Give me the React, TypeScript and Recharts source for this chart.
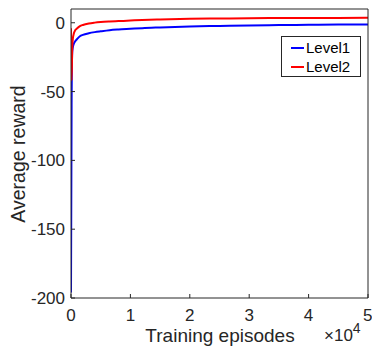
import { Label, Line, LineChart, XAxis, YAxis } from "recharts";

const EPISODES = [0, 100, 200, 300, 500, 700, 1000, 1500, 2000, 3000, 4000, 5000, 6500, 8000, 10000, 12000, 15000, 20000, 25000, 30000, 35000, 40000, 45000, 50000];
const LEVEL1 = [-196, -60, -22, -18, -15, -13.5, -12, -9.8, -8.8, -7.6, -6.8, -6.2, -5.4, -4.9, -4.4, -3.9, -3.4, -2.7, -2.3, -1.9, -1.7, -1.5, -1.3, -1.2];
const LEVEL2 = [-4, -42, -20, -12, -7.5, -5.5, -4.2, -2.5, -1.6, -0.5, 0.1, 0.5, 0.9, 1.2, 1.6, 2.0, 2.4, 2.9, 3.1, 3.3, 3.4, 3.5, 3.55, 3.6];
const X_TICKS = [0, 10000, 20000, 30000, 40000, 50000];
const Y_TICKS = [-200, -150, -100, -50, 0];
const SERIES = [
  { key: "level1", name: "Level1", color: "#0000ff" },
  { key: "level2", name: "Level2", color: "#ff0000" },
];

const data = EPISODES.map((ep, i) => ({ ep, level1: LEVEL1[i], level2: LEVEL2[i] }));

const FONT = "'Liberation Sans', Arial, Helvetica, sans-serif";
const INK = "#262626";
const tick = { fill: INK, fontSize: 17, fontFamily: FONT };

function LegendBox() {
  return (
    <div
      style={{
        position: "absolute",
        left: 281,
        top: 36,
        border: `1px solid ${INK}`,
        background: "#fff",
        width: 78,
        height: 38,
        fontFamily: FONT,
        fontSize: 15,
        color: "#000",
        paddingTop: 1,
      }}
    >
      {SERIES.map((s) => (
        <div key={s.key} style={{ display: "flex", alignItems: "center", height: 19 }}>
          <span style={{ display: "inline-block", width: 13, height: 2, background: s.color, marginLeft: 9, marginRight: 2 }} />
          <span>{s.name}</span>
        </div>
      ))}
    </div>
  );
}

export default function App() {
  return (
    <div style={{ position: "absolute", left: 0, top: 0, width: 372, height: 351, background: "#fff" }}>
      <LineChart width={372} height={351} data={data} margin={{ top: 8, right: 3, bottom: 52, left: 70 }}>
        <XAxis
          dataKey="ep"
          type="number"
          domain={[0, 50000]}
          ticks={X_TICKS}
          tickFormatter={(v) => String(v / 10000)}
          height={1}
          tick={tick}
          tickSize={-4}
          tickMargin={14.5}
          stroke={INK}
          allowDataOverflow
        >
          <Label
            content={() => (
              <g>
                <text x={220} y={341.5} textAnchor="middle" fontSize={19} fontFamily={FONT} fill={INK}>
                  Training episodes
                </text>
                <text x={324} y={341} fontFamily={FONT} fill={INK}>
                  <tspan fontSize={17}>×10</tspan>
                  <tspan fontSize={14} dy={-8}>4</tspan>
                </text>
              </g>
            )}
          />
        </XAxis>
        <XAxis
          xAxisId="top"
          orientation="top"
          type="number"
          domain={[0, 50000]}
          ticks={X_TICKS}
          height={1}
          tick={false}
          tickSize={-4}
          stroke={INK}
          allowDataOverflow
        />
        <YAxis
          type="number"
          domain={[-200, 10]}
          ticks={Y_TICKS}
          width={1}
          tick={tick}
          tickSize={-4}
          tickMargin={10}
          stroke={INK}
          allowDataOverflow
        >
          <Label
            content={() => (
              <text
                x={18}
                y={154}
                transform="rotate(-90 18 154)"
                textAnchor="middle"
                dominantBaseline="central"
                fontSize={19.5}
                fontFamily={FONT}
                fill={INK}
              >
                Average reward
              </text>
            )}
          />
        </YAxis>
        <YAxis
          yAxisId="right"
          orientation="right"
          type="number"
          domain={[-200, 10]}
          ticks={Y_TICKS}
          width={1}
          tick={false}
          tickSize={-4}
          stroke={INK}
          allowDataOverflow
        />
        {SERIES.map((s) => (
          <Line
            key={s.key}
            dataKey={s.key}
            name={s.name}
            type="monotone"
            stroke={s.color}
            strokeWidth={2}
            dot={false}
            isAnimationActive={false}
          />
        ))}
      </LineChart>
      <LegendBox />
    </div>
  );
}
